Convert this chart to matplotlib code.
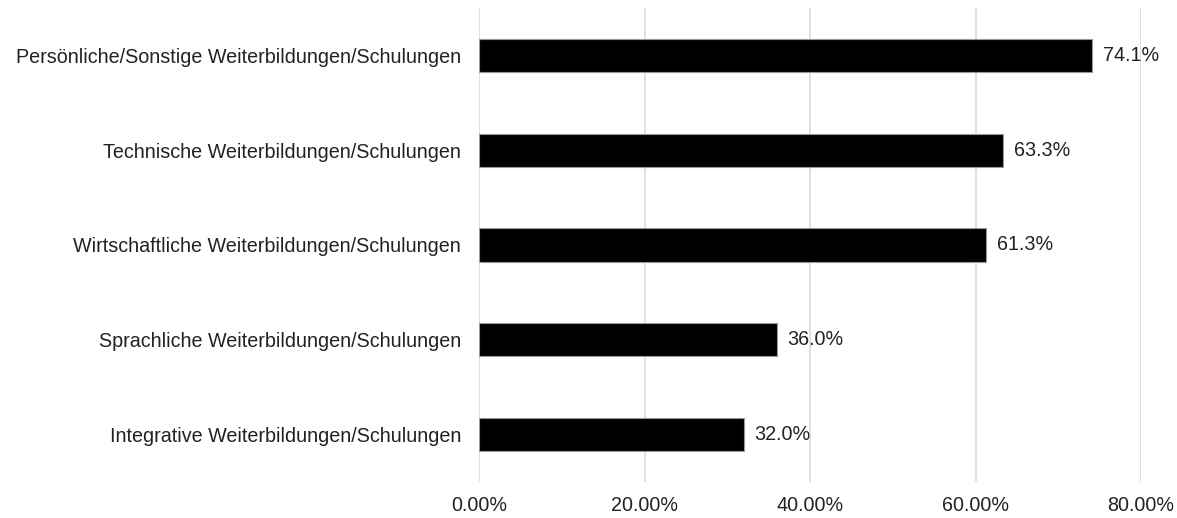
import matplotlib
matplotlib.use("Agg")
import matplotlib.pyplot as plt
from matplotlib.ticker import FuncFormatter

categories = [
    "Persönliche/Sonstige Weiterbildungen/Schulungen",
    "Technische Weiterbildungen/Schulungen",
    "Wirtschaftliche Weiterbildungen/Schulungen",
    "Sprachliche Weiterbildungen/Schulungen",
    "Integrative Weiterbildungen/Schulungen",
]
values = [74.1, 63.3, 61.3, 36.0, 32.0]
xticks = [0, 20, 40, 60, 80]

plt.rcParams['font.family'] = ['Liberation Sans', 'DejaVu Sans']

fig = plt.figure(figsize=(11.77, 5.18), dpi=100)
ax = fig.add_axes([479/1177, 1-482/518, (1141-479)/1177, (482-8)/518])

FS = 14.2
y = list(range(len(categories)))
ax.barh(y, values, height=0.35, color='black', edgecolor='#999999', linewidth=0.8, zorder=3)
for yi, v in zip(y, values):
    ax.text(v + 1.3, yi, f"{v:.1f}%", va='center', ha='left', fontsize=FS, color='#222222')

ax.set_ylim(len(categories) - 0.5, -0.5)
ax.set_xlim(0, 80)
ax.set_yticks(y)
ax.set_yticklabels(categories, fontsize=FS, color='#222222')
ax.set_xticks(xticks)
ax.xaxis.set_major_formatter(FuncFormatter(lambda v, p: f"{v:.2f}%"))
ax.tick_params(axis='x', labelsize=FS, colors='#222222', length=0, pad=10)
ax.tick_params(axis='y', length=0, pad=13)
ax.grid(axis='x', color='#dddddd', linewidth=1.3, zorder=0)
for s in ax.spines.values():
    s.set_visible(False)

fig.savefig("out.png", dpi=100)
